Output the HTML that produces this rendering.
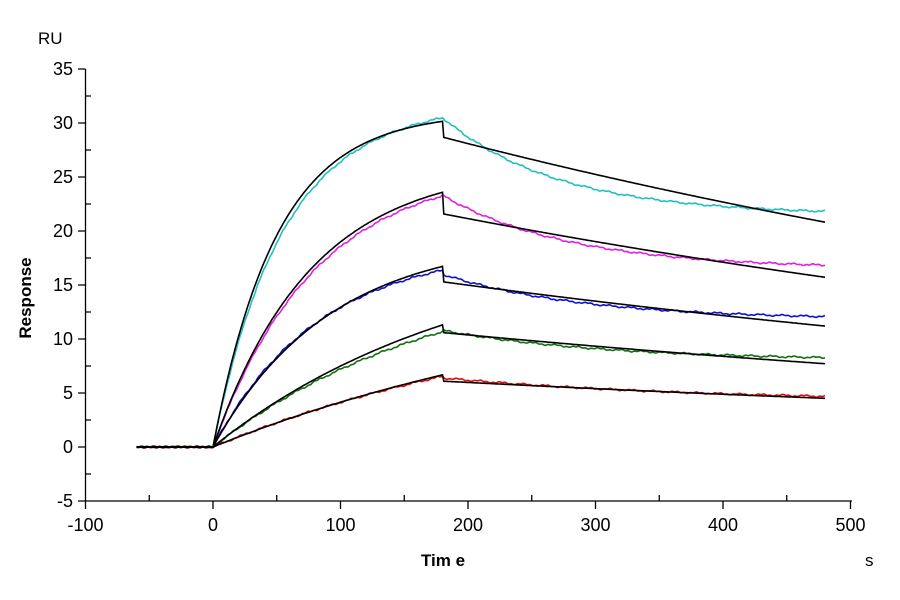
<!DOCTYPE html>
<html><head><meta charset="utf-8"><style>body{margin:0;background:#fff}svg{display:block}text{font-family:"Liberation Sans",Arial,sans-serif}</style></head>
<body>
<svg id="s" width="900" height="600" xmlns="http://www.w3.org/2000/svg">
<rect width="900" height="600" fill="#fff"/>
<g id="ax" stroke="#000" stroke-width="1.3" fill="none"></g>
<g id="lbl" font-size="18" fill="#000"></g>
<text x="38" y="44" font-size="17">RU</text>
<text transform="translate(31,298) rotate(-90)" text-anchor="middle" font-size="17" font-weight="bold">Response</text>
<text x="443" y="566" text-anchor="middle" font-size="17" font-weight="bold">Tim e</text>
<text x="865" y="566" font-size="17">s</text>
<g id="cv" fill="none" stroke-width="1.6"></g>
</svg>
<script>
const X=t=>213+1.275*t, Y=v=>447-10.8*v;
const ax=document.getElementById('ax'), lb=document.getElementById('lbl'), cv=document.getElementById('cv');
let a='M85.5,69 V501 H852';
for(let v=-5;v<=35;v+=5){a+=`M78,${Y(v)}H85.5`;lb.innerHTML+=`<text x="73" y="${Y(v)+6}" text-anchor="end">${v}</text>`;}
for(let v=-2.5;v<35;v+=5){a+=`M85.5,${Y(v)}H91`;}
for(let t=-100;t<=500;t+=100){a+=`M${X(t)},501V509`;lb.innerHTML+=`<text x="${X(t)}" y="531" text-anchor="middle">${t}</text>`;}
for(let t=-50;t<500;t+=100){a+=`M${X(t)},501V495`;}
ax.innerHTML=`<path d="${a}"/>`;
function path(f,noise,seed){let d='';for(let t=-60;t<=480;t+=1){let v=f(t);if(noise)v+=noise*(Math.sin(t*0.37+seed)*0.6+Math.sin(t*1.3+seed*2)*0.4);d+=(d?'L':'M')+X(t).toFixed(1)+','+Y(v).toFixed(1);}return d;}
const fits=[[31,0.02,28.7,0.00107],[26.1,0.013,21.6,0.00106],[19.4,0.011,15.3,0.00104],[19.05,0.005,10.6,0.00106],[16,0.003,6.1,0.00101]];
const data=[['#20c0c0',30.3,0.019,21.5,9,90,0.0065],['#e020e0',26,0.0125,16.5,6.8,100,0],['#1010d0',18.5,0.012,11.8,4.2,110,0],['#107010',17,0.0055,8,2.8,130,0],['#e01010',14,0.0035,4.2,2.2,200,0]];
let h='';
data.forEach((d,i)=>{const [c,R,k,p,A,tau,lin]=d;h+=`<path stroke="${c}" d="${path(t=>t<0?0:t<=180?R*(1-Math.exp(-k*t))+lin*t:p+A*Math.exp(-(t-180)/tau),0.1,i*3)}"/>`;});
fits.forEach(f=>{const [R,k,D,kd]=f;h+=`<path stroke="#000" d="${path(t=>t<0?0:t<=180?R*(1-Math.exp(-k*t)):D*Math.exp(-kd*(t-180)),0,0)}"/>`;});
cv.innerHTML=h;
</script>
</body></html>
